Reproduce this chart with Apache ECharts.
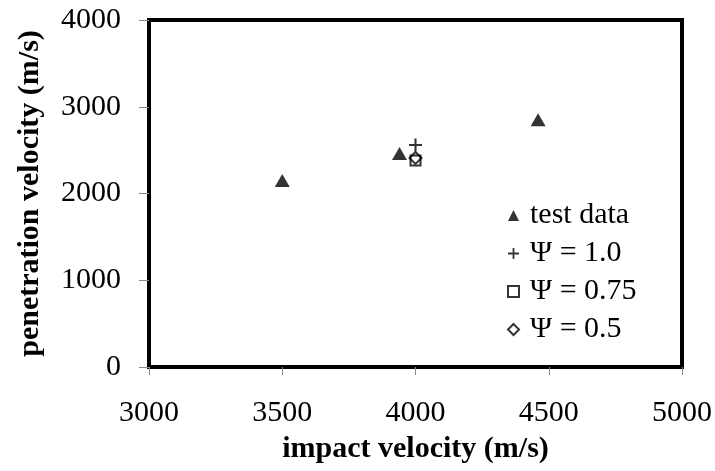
<!DOCTYPE html>
<html>
<head>
<meta charset="utf-8">
<script src="https://cdn.jsdelivr.net/npm/echarts@6/dist/echarts.min.js"></script>
<style>
  * { margin: 0; padding: 0; }
  #chartBox { width: 715px; height: 471px; background: #fff; }
</style>
</head>
<body>
<div id="chartBox"></div>
<script>
var testData = [[3500, 2150], [3940, 2460], [4460, 2850]];
var psi10 = [[4000, 2560]];
var psi075 = [[4000, 2380]];
var psi05 = [[4000, 2410]];
var seriesNames = ['test data', 'Ψ = 1.0', 'Ψ = 0.75', 'Ψ = 0.5'];

var plusPath = 'path://M4.2,0h1.6v4.2h4.2v1.6h-4.2v4.2h-1.6v-4.2h-4.2v-1.6h4.2z';
var font = 'Liberation Serif';

var chart = echarts.init(document.getElementById('chartBox'));
chart.setOption({
  animation: false,
  backgroundColor: '#fff',
  textStyle: { fontFamily: font, color: '#000' },
  grid: {
    left: 149, top: 20, right: 30, bottom: 104,
    show: true, borderColor: '#000', borderWidth: 4
  },
  legend: {
    orient: 'vertical',
    left: 502, top: 195,
    itemWidth: 11, itemHeight: 11,
    itemGap: 7,
    textStyle: { fontFamily: font, fontSize: 30, color: '#000', lineHeight: 31, padding: [0, 0, 0, 6] },
    data: [
      { name: seriesNames[0], icon: 'triangle' },
      { name: seriesNames[1], icon: plusPath },
      { name: seriesNames[2], icon: 'rect' },
      { name: seriesNames[3], icon: 'diamond' }
    ]
  },
  xAxis: {
    type: 'value',
    min: 3000, max: 5000, interval: 500,
    name: 'impact velocity (m/s)',
    nameLocation: 'middle',
    nameGap: 67,
    nameTextStyle: { fontFamily: font, fontSize: 30, fontWeight: 'bold', color: '#000' },
    axisLine: { show: false },
    axisTick: { show: true, length: 8, lineStyle: { color: '#888', width: 1 } },
    axisLabel: { fontFamily: font, fontSize: 30, color: '#000', margin: 31, formatter: function (v) { return String(v); } },
    splitLine: { show: false }
  },
  yAxis: {
    type: 'value',
    min: 0, max: 4000, interval: 1000,
    name: 'penetration velocity (m/s)',
    nameLocation: 'middle',
    nameGap: 104,
    nameTextStyle: { fontFamily: font, fontSize: 30, fontWeight: 'bold', color: '#000' },
    axisLine: { show: false },
    axisTick: { show: true, length: 10, lineStyle: { color: '#888', width: 1 } },
    axisLabel: { fontFamily: font, fontSize: 30, color: '#000', margin: 28, formatter: function (v) { return String(v); } },
    splitLine: { show: false }
  },
  series: [
    {
      name: seriesNames[0], type: 'scatter', data: testData,
      symbol: 'triangle', symbolSize: [15, 13],
      itemStyle: { color: '#000' }
    },
    {
      name: seriesNames[1], type: 'scatter', data: psi10,
      symbol: plusPath, symbolSize: 13,
      itemStyle: { color: '#000' }
    },
    {
      name: seriesNames[2], type: 'scatter', data: psi075,
      symbol: 'rect', symbolSize: 10,
      itemStyle: { color: 'transparent', borderColor: '#000', borderWidth: 2 }
    },
    {
      name: seriesNames[3], type: 'scatter', data: psi05,
      symbol: 'diamond', symbolSize: 12,
      itemStyle: { color: 'transparent', borderColor: '#000', borderWidth: 2 }
    }
  ]
});
</script>
</body>
</html>
